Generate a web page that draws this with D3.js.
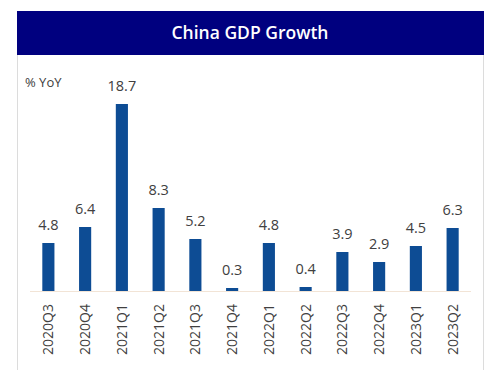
<!DOCTYPE html>
<html>
<head>
<meta charset="utf-8">
<script src="https://cdn.jsdelivr.net/npm/d3@7"></script>
<style>
  html, body { margin: 0; padding: 0; background: #fff; }
  svg { display: block; }
</style>
</head>
<body>
<svg id="chart" width="492" height="370"></svg>
<script>
// Quarterly real GDP growth, % year over year
const quarters = ["2020Q3", "2020Q4", "2021Q1", "2021Q2", "2021Q3", "2021Q4",
                  "2022Q1", "2022Q2", "2022Q3", "2022Q4", "2023Q1", "2023Q2"];
const growth = [4.8, 6.4, 18.7, 8.3, 5.2, 0.3, 4.8, 0.4, 3.9, 2.9, 4.5, 6.3];
const titleText = "China GDP Growth";
const unitText = "% YoY";

const data = quarters.map((q, i) => ({ q, v: growth[i] }));
const svg = d3.select("#chart");
const font = "'Open Sans', Calibri, sans-serif";

// Panel frame
svg.append("rect")
  .attr("x", 17.5).attr("y", 11.5).attr("width", 466).attr("height", 370)
  .attr("fill", "#fff").attr("stroke", "#dcdcdc");

// Title band
svg.append("rect")
  .attr("x", 17).attr("y", 11).attr("width", 467).attr("height", 44)
  .attr("fill", "#00007f");
svg.append("text")
  .attr("x", 250).attr("y", 39)
  .attr("text-anchor", "middle")
  .attr("font-family", font).attr("font-weight", 600).attr("font-size", 17.5)
  .attr("fill", "#fff")
  .text(titleText);

// Scales
const x = d3.scaleBand().domain(quarters).range([30, 471]).paddingInner(0.67).paddingOuter(0.335);
const y = d3.scaleLinear().domain([0, 20]).range([291, 91]);

// Unit label
svg.append("text")
  .attr("x", 25).attr("y", 87)
  .attr("font-family", font).attr("font-size", 13)
  .attr("fill", "#404040")
  .text(unitText);

// Baseline
svg.append("line")
  .attr("x1", 30).attr("x2", 471)
  .attr("y1", y(0) + 0.5).attr("y2", y(0) + 0.5)
  .attr("stroke", "#f2e4d6").attr("stroke-width", 1);

// Bars
svg.append("g").selectAll("rect")
  .data(data).join("rect")
  .attr("x", d => x(d.q))
  .attr("width", x.bandwidth())
  .attr("y", d => y(d.v))
  .attr("height", d => y(0) - y(d.v))
  .attr("fill", "#0d4c94");

// Value labels
svg.append("g").selectAll("text")
  .data(data).join("text")
  .attr("x", d => x(d.q) + x.bandwidth() / 2)
  .attr("y", d => y(d.v) - 13)
  .attr("text-anchor", "middle")
  .attr("font-family", font).attr("font-size", 14.5)
  .attr("fill", "#404040")
  .text(d => d.v.toFixed(1));

// Category axis, labels rotated to read upward
const xAxis = svg.append("g")
  .attr("transform", `translate(0,${y(0)})`)
  .call(d3.axisBottom(x).tickSize(0).tickPadding(0));
xAxis.select(".domain").remove();
xAxis.selectAll("text")
  .attr("font-family", font).attr("font-size", 14)
  .attr("fill", "#404040")
  .attr("text-anchor", "end")
  .attr("dy", "0.35em")
  .attr("transform", "translate(0,13) rotate(-90)")
  .attr("x", 0).attr("y", 0);
</script>
</body>
</html>
